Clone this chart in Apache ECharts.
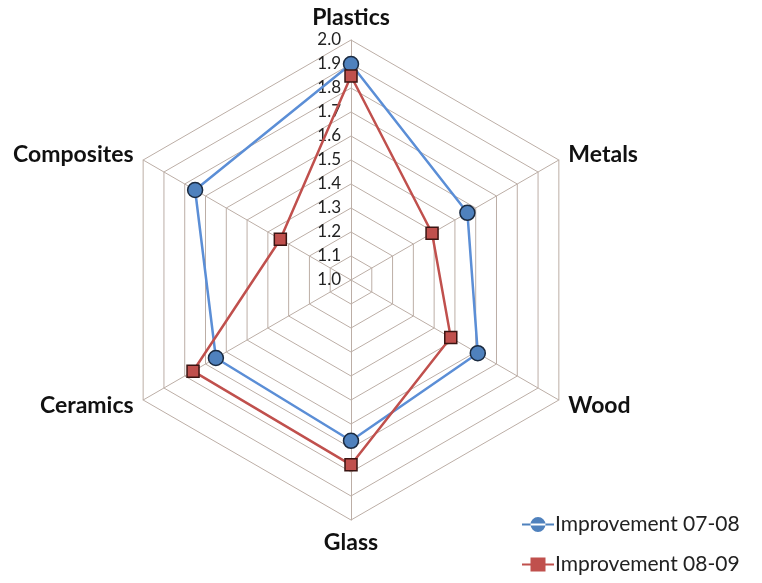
<!DOCTYPE html>
<html><head><meta charset="utf-8">
<script src="https://cdn.jsdelivr.net/npm/echarts@6/dist/echarts.min.js"></script>
<style>html,body{margin:0;padding:0;background:#fff}#c{width:762px;height:583px}</style>
</head><body><div id="c"></div>
<script>
// indicators listed counter-clockwise from the top (ECharts radar order)
var categories = ['Plastics', 'Composites', 'Ceramics', 'Glass', 'Wood', 'Metals'];
var improvement0708 = [1.90, 1.75, 1.65, 1.67, 1.61, 1.56];
var improvement0809 = [1.85, 1.34, 1.76, 1.77, 1.48, 1.39];
var seriesNames = ['Improvement 07-08', 'Improvement 08-09'];
var axisMin = 1.0, axisMax = 2.0, splitCount = 10;

var font = 'Lato, "Open Sans", sans-serif';
var gridColor = '#bcaea6';
var blue = '#4f81bd', blueLine = '#5b8ed6', red = '#c0504d';

var chart = echarts.init(document.getElementById('c'), null, {renderer: 'canvas'});
chart.setOption({
  animation: false,
  legend: {
    orient: 'vertical', left: 517, top: 509, itemGap: 19,
    itemWidth: 32, itemHeight: 15,
    textStyle: {fontFamily: font, fontSize: 21, color: '#222', padding: [0, 0, 0, -4]},
    data: [
      {name: seriesNames[0], icon: 'path://M0,6.5h32v2H0z M23.5,7.5a7.5,7.5 0 1,0 -15,0a7.5,7.5 0 1,0 15,0z',
       itemStyle: {color: blue, borderWidth: 0}},
      {name: seriesNames[1], icon: 'path://M0,6.5h32v2H0z M8.5,0.5h15v14H8.5z',
       itemStyle: {color: red, borderWidth: 0}}
    ]
  },
  radar: {
    center: [351, 280], radius: 240, startAngle: 90,
    shape: 'polygon', splitNumber: splitCount,
    indicator: categories.map(function (c, i) {
      var o = {name: c, min: axisMin, max: axisMax};
      if (i === 0) o.axisLabel = {show: true};
      return o;
    }),
    axisName: {fontFamily: font, fontWeight: 'bold', fontSize: 23, color: '#111'},
    nameGap: 11,
    axisLine: {lineStyle: {color: gridColor, width: 1}},
    splitLine: {lineStyle: {color: gridColor, width: 1}},
    splitArea: {show: false},
    axisTick: {show: false},
    axisLabel: {
      show: false, fontFamily: font, fontSize: 17, color: '#222', margin: 10,
      formatter: function (v) { return Number(v).toFixed(1); }
    }
  },
  series: [{
    type: 'radar',
    data: [
      {name: seriesNames[0], value: improvement0708,
       symbol: 'circle', symbolSize: 15,
       itemStyle: {color: blue, borderColor: '#1a2a40', borderWidth: 1.5},
       lineStyle: {color: blueLine, width: 2.5}},
      {name: seriesNames[1], value: improvement0809,
       symbol: 'rect', symbolSize: 12,
       itemStyle: {color: red, borderColor: '#3a1412', borderWidth: 1.5},
       lineStyle: {color: red, width: 2.5}}
    ]
  }]
});
</script></body></html>
